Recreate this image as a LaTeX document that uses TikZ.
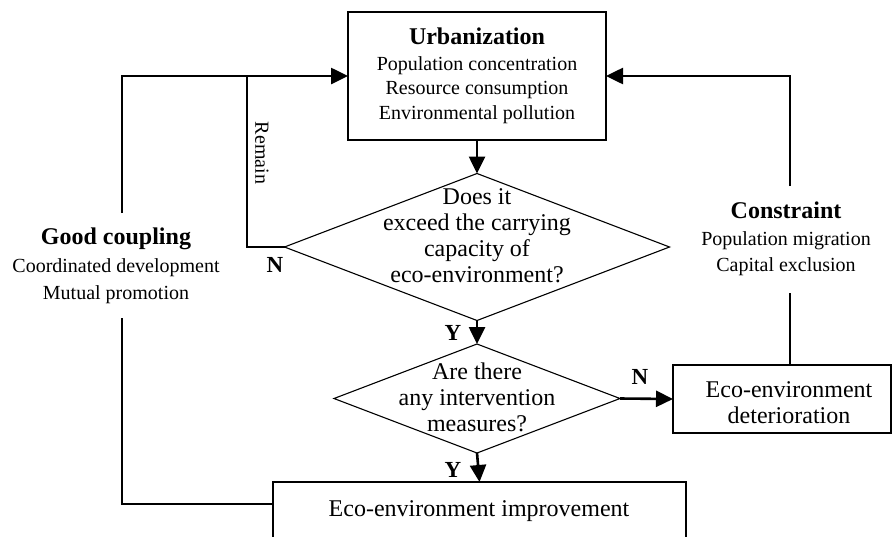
\documentclass[tikz,border=0pt]{standalone}
\usepackage{fontspec}
\setmainfont{Liberation Serif}
\usetikzlibrary{arrows.meta,shapes.geometric,calc}
\begin{document}
\begin{tikzpicture}[x=1pt,y=-1pt,
  box/.style={draw,line width=1.1pt,inner sep=0pt,outer sep=0pt,align=center},
  dia/.style={draw,diamond,line width=1.1pt,inner sep=0pt,outer sep=0pt},
  conn/.style={line width=2.6pt},
  arr/.style={line width=2.6pt,-{Triangle[length=17pt,width=16pt]}},
  big/.style={font=\fontsize{24}{26}\selectfont},
  sub/.style={font=\fontsize{20}{24.5}\selectfont},
  lab/.style={font=\fontsize{23}{24}\selectfont\bfseries},
  txt/.style={align=center,inner sep=0pt}]
\useasboundingbox (0,0) rectangle (893,536);
% nodes
\node[box,minimum width=258pt,minimum height=128pt] (urb) at (477,76) {};
\node[txt,font=\fontsize{20}{24.5}\selectfont] (urbt) at (477,76) {{\fontsize{24}{26}\selectfont\bfseries Urbanization}\\[1pt]
  Population concentration\\
  Resource consumption\\
  Environmental pollution};
\node[dia,minimum width=385pt,minimum height=147pt] (d1) at (477,247) {};
\node[txt,big] (d1t) at (477,236) {Does it\\exceed the carrying\\capacity of\\eco-environment?};
\node[dia,minimum width=286pt,minimum height=109pt] (d2) at (477,398.5) {};
\node[txt,big] (d2t) at (477,397) {Are there\\any intervention\\measures?};
\node[box,minimum width=218pt,minimum height=68pt] (det) at (782,399) {};
\node[txt,big] (dett) at (789,403) {Eco-environment\\deterioration};
\node[box,minimum width=413pt,minimum height=60pt] (imp) at (479.5,512) {};
\node[txt,big] (impt) at (479,511) {Eco-environment improvement};
\node[txt,font=\fontsize{20}{27}\selectfont] (gc) at (116,266) {{\fontsize{24}{26}\selectfont\bfseries Good coupling}\\[1pt]
  Coordinated development\\
  Mutual promotion};
\node[txt,font=\fontsize{20}{26}\selectfont] (cs) at (786,239) {{\fontsize{24}{26}\selectfont\bfseries Constraint}\\[1pt]
  Population migration\\
  Capital exclusion};
\node[txt,sub,rotate=-90] (rem) at (262,153) {Remain};
\node[lab] (n1) at (275,265) {N};
\node[lab] (y1) at (453,333) {Y};
\node[lab] (y2) at (453,470) {Y};
\node[lab] (n2) at (640,377) {N};
% coordinates
\coordinate (g1) at (122,213);
\coordinate (g2) at (122,318);
\coordinate (gtop) at (122,76);
\coordinate (gbot) at (122,504);
\coordinate (rtop) at (247,76);
\coordinate (rbot) at (247,247);
\coordinate (c1) at (790,186);
\coordinate (c2) at (790,293);
\coordinate (ctop) at (790,76);
% connectors
\draw[arr] (urb.south) -- (d1.north);
\draw[arr] (d1.south) -- (d2.north);
\draw[arr] (d2.south) -- (imp.north);
\draw[arr] (d2.east) -- (det.west);
\draw[conn] (d1.west) -- (rbot) -- (rtop);
\draw[conn] (imp.west |- gbot) -- (gbot) -- (g2);
\draw[arr] (g1) -- (gtop) -- (urb.west);
\draw[conn] (det.north -| c2) -- (c2);
\draw[arr] (c1) -- (ctop) -- (urb.east);
\end{tikzpicture}
\end{document}
